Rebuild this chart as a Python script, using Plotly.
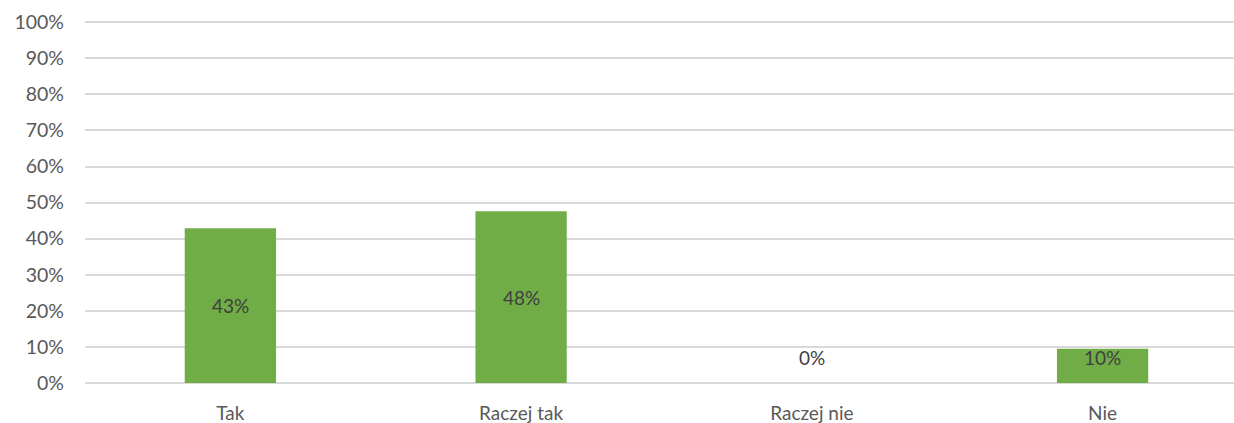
import plotly.graph_objects as go

categories = ["Tak", "Raczej tak", "Raczej nie", "Nie"]
values = [0.4286, 0.4762, 0.0, 0.0952]
labels = ["43%", "48%", "0%", "10%"]
y_ticks = [i / 10 for i in range(11)]
y_tick_text = [f"{i*10}%" for i in range(11)]

FONT = "Lato"
TXT = "#595959"

fig = go.Figure()
fig.add_trace(go.Bar(x=categories, y=values, marker=dict(color="#70ad47", line=dict(width=0)),
                     hoverinfo="skip"))

for c, v, t in zip(categories, values, labels):
    fig.add_annotation(x=c, y=max(v / 2, 0.072), text=t, showarrow=False,
                       font=dict(family=FONT, size=19, color="#404040"),
                       xanchor="center", yanchor="middle")

fig.update_layout(
    width=1234, height=423,
    margin=dict(l=85, r=0, t=20, b=40),
    paper_bgcolor="white", plot_bgcolor="white",
    bargap=0.686, showlegend=False,
    font=dict(family=FONT, size=19, color=TXT),
)
fig.update_xaxes(range=[-0.5, 3.452], showgrid=False, showline=False, zeroline=False,
                 ticks="", ticklabelstandoff=17, tickfont=dict(family=FONT, size=19, color=TXT))
fig.update_yaxes(range=[0, 1.006], tickvals=y_ticks, ticktext=y_tick_text,
                 showgrid=True, gridcolor="#d9d9d9", gridwidth=1.5,
                 zeroline=True, zerolinecolor="#d9d9d9", zerolinewidth=1.5,
                 showline=False, ticks="", ticklabelstandoff=20,
                 tickfont=dict(family=FONT, size=19.5, color=TXT))

fig.write_html("out.html", config={"displayModeBar": False},
               post_script="document.body.style.margin='0';document.body.style.overflow='hidden';")
